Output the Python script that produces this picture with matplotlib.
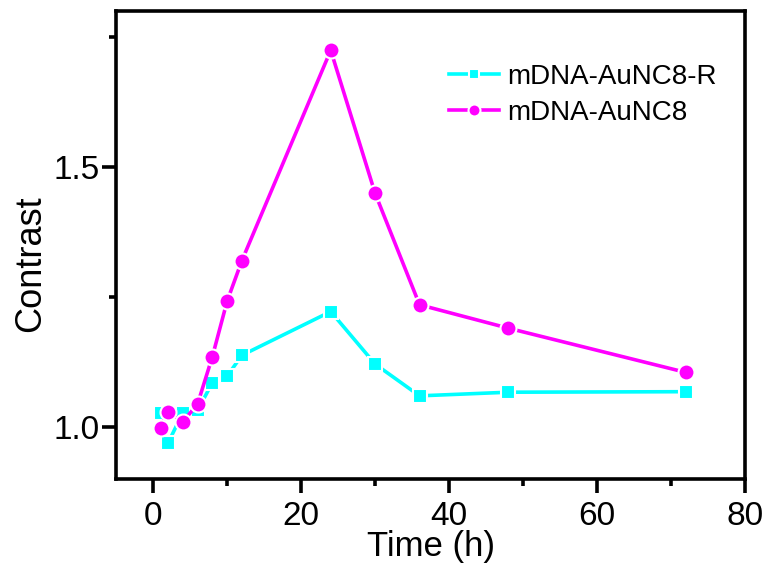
import matplotlib.pyplot as plt
from matplotlib.ticker import MultipleLocator

plt.rcParams['font.family'] = ['Liberation Sans', 'DejaVu Sans']

# contrast vs. incubation time
time_r = [1, 2, 4, 6, 8, 10, 12, 24, 30, 36, 48, 72]
contrast_r = [1.028, 0.969, 1.027, 1.032, 1.085, 1.098, 1.138, 1.222, 1.121, 1.060, 1.067, 1.068]

time_m = [1, 2, 4, 6, 8, 10, 12, 24, 30, 36, 48, 72]
contrast_m = [0.999, 1.029, 1.010, 1.044, 1.135, 1.242, 1.320, 1.724, 1.449, 1.235, 1.190, 1.105]

fig = plt.figure(figsize=(7.69, 5.65), dpi=100)
ax = fig.add_axes([0.151, 0.152, 0.818, 0.829])

ax.plot(time_r, contrast_r, color="#00ffff", linewidth=2.6, marker="s",
        markersize=10.5, markeredgecolor="white", markeredgewidth=1.5,
        label="mDNA-AuNC8-R")
ax.plot(time_m, contrast_m, color="#ff00ff", linewidth=2.6, marker="o",
        markersize=11.5, markeredgecolor="white", markeredgewidth=1.5,
        label="mDNA-AuNC8")

ax.set_xlim(-5, 80)
ax.set_ylim(0.9, 1.8)
ax.xaxis.set_major_locator(MultipleLocator(20))
ax.xaxis.set_minor_locator(MultipleLocator(10))
ax.yaxis.set_major_locator(MultipleLocator(0.5))
ax.yaxis.set_minor_locator(MultipleLocator(0.25))
ax.yaxis.set_major_formatter(plt.FormatStrFormatter("%.1f"))

for s in ax.spines.values():
    s.set_linewidth(2.6)
ax.tick_params(which="major", direction="out", length=10, width=2.6,
               labelsize=24, pad=6)
ax.tick_params(axis="y", which="major", pad=2)
ax.tick_params(which="minor", direction="out", length=5, width=2.6)

ax.set_xlabel("Time (h)", fontsize=25, labelpad=-2)
ax.set_ylabel("Contrast", fontsize=26, labelpad=4, y=0.46)

ax.legend(loc="upper right", bbox_to_anchor=(0.995, 0.94), frameon=False,
          fontsize=20, handlelength=1.8, handletextpad=0.3, labelspacing=0.35,
          markerscale=0.75)

fig.savefig("out.png", dpi=100)
